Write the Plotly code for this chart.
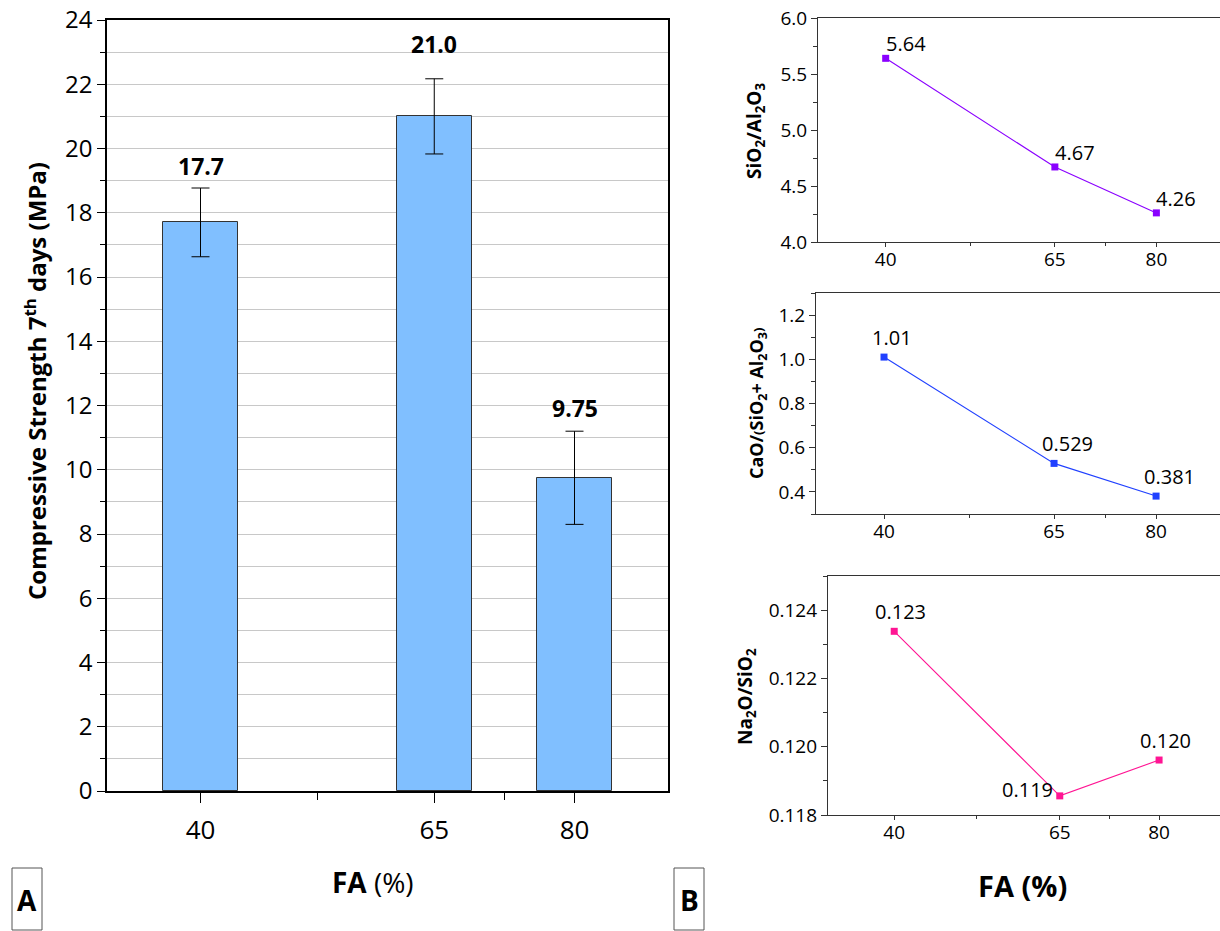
import plotly.graph_objects as go

# ---------------- data ----------------
fa = [40, 65, 80]
strength = [17.7, 21.0, 9.75]
strength_err = [1.07, 1.17, 1.45]
strength_labels = ["17.7", "21.0", "9.75"]

sio2_al2o3 = [5.64, 4.67, 4.26]
sio2_al2o3_labels = ["5.64", "4.67", "4.26"]

cao_ratio = [1.01, 0.529, 0.381]
cao_ratio_labels = ["1.01", "0.529", "0.381"]

na2o_sio2 = [0.12338, 0.11856, 0.11961]
na2o_sio2_labels = ["0.123", "0.119", "0.120"]

W, H = 1220, 931
FONT = "Open Sans"


def px(x):
    return x / W


def py(y):
    return 1 - y / H


fig = go.Figure()

# ---------------- panel A: bars ----------------
fig.add_trace(go.Bar(
    x=fa, y=strength, width=8,
    marker=dict(color="#80bfff", line=dict(color="#333333", width=1)),
    error_y=dict(type="data", array=strength_err, color="black", thickness=1, width=9),
    xaxis="x", yaxis="y", showlegend=False,
))

# ---------------- panel B: lines ----------------
line_specs = [
    ("x2", "y2", sio2_al2o3, "#8a00ff"),
    ("x3", "y3", cao_ratio, "#2040ff"),
    ("x4", "y4", na2o_sio2, "#ff1493"),
]
for xa, ya, vals, col in line_specs:
    fig.add_trace(go.Scatter(
        x=fa, y=vals, mode="lines+markers",
        line=dict(color=col, width=1.1),
        marker=dict(symbol="square", size=7, color=col, line=dict(width=0)),
        xaxis=xa, yaxis=ya, showlegend=False,
    ))

axis_common = dict(showline=True, linecolor="black", linewidth=1.5, ticks="outside",
                   tickcolor="black", zeroline=False, automargin=False,
                   ticklabeloverflow="allow")

layout = dict(
    template="none",
    width=W, height=H, margin=dict(l=0, r=0, t=0, b=0, pad=0),
    paper_bgcolor="white", plot_bgcolor="white",
    font=dict(family=FONT, color="black"),
    bargap=0,
)

# left chart axes
layout["xaxis"] = dict(
    **axis_common, domain=[px(107), px(668)], range=[30, 90], mirror=True, showgrid=False,
    tickmode="array", tickvals=fa, ticktext=[str(v) for v in fa], ticklen=10,
    ticklabelstandoff=5,
    tickfont=dict(size=26), anchor="y",
    minor=dict(tickmode="array", tickvals=[52.5, 72.5], ticks="outside", ticklen=7,
               tickcolor="black", showgrid=False),
)
layout["yaxis"] = dict(
    **axis_common,
    domain=[py(791), py(20)], range=[0, 24], mirror=True,
    tickmode="linear", tick0=0, dtick=2, ticklen=8, tickfont=dict(size=24),
    showgrid=True, gridcolor="#c8c8c8", gridwidth=1, anchor="x",
    minor=dict(dtick=1, ticks="outside", ticklen=5, tickcolor="black",
               showgrid=True, gridcolor="#c8c8c8", gridwidth=1),
)

right_specs = [
    # x axis, y axis, anchors, left px, top px, bottom px, x max, y range, dtick, format
    ("xaxis2", "yaxis2", "x2", "y2", 818, 18, 242, 89.4, [4.0, 6.0], 0.5, ".1f"),
    ("xaxis3", "yaxis3", "x3", "y3", 816, 293, 514, 89.4, [0.3, 1.3], 0.2, ".1f"),
    ("xaxis4", "yaxis4", "x4", "y4", 828, 576, 815, 89.2, [0.118, 0.125], 0.002, ".3f"),
]
rcommon = dict(showline=True, linecolor="#333333", linewidth=1.2, ticks="outside",
               tickcolor="#333333", zeroline=False, showgrid=False, automargin=False,
               ticklabeloverflow="allow")
for xk, yk, xa, ya, left, top, bot, xmax, yr, dt, fmt in right_specs:
    layout[xk] = dict(
        **rcommon, domain=[px(left), 1.0], range=[30, xmax], mirror=True,
        tickmode="array", tickvals=fa, ticktext=[str(v) for v in fa], ticklen=4,
        ticklabelstandoff=-4,
        tickfont=dict(size=19), anchor=ya,
        minor=dict(tickmode="array", tickvals=[52.5, 72.5], ticks="outside", ticklen=3,
                   tickcolor="#333333", showgrid=False),
    )
    tick0 = 0.4 if yk == "yaxis3" else yr[0]
    layout[yk] = dict(
        **rcommon, domain=[py(bot), py(top)], range=yr, mirror=False,
        tickmode="linear", tick0=tick0, dtick=dt, tickformat=fmt, ticklen=6,
        tickfont=dict(size=19), anchor=xa,
        minor=dict(dtick=dt / 2, ticks="outside", ticklen=4, tickcolor="#333333",
                   showgrid=False),
    )

fig.update_layout(**layout)

ann = []
# bar value labels
bar_label_shift = [4, 17, 5]
for x, v, e, t, s in zip(fa, strength, strength_err, strength_labels, bar_label_shift):
    ann.append(dict(x=x, y=v + e, xref="x", yref="y", text=f"<b>{t}</b>", showarrow=False,
                    yanchor="bottom", yshift=s, font=dict(size=23, family=FONT)))

# panel 1 labels
for x, v, t in zip(fa, sio2_al2o3, sio2_al2o3_labels):
    ann.append(dict(x=x, y=v, xref="x2", yref="y2", text=t, showarrow=False,
                    xanchor="left", yanchor="bottom", xshift=-2, yshift=-1,
                    font=dict(size=20, family=FONT)))
# panel 2 labels
for x, v, t, xs in zip(fa, cao_ratio, cao_ratio_labels, [8, 13, 13]):
    ann.append(dict(x=x, y=v, xref="x3", yref="y3", text=t, showarrow=False,
                    xanchor="center", yanchor="bottom", xshift=xs, yshift=4,
                    font=dict(size=20, family=FONT)))
# panel 3 labels
p3_style = [("center", "bottom", 6, 4), ("right", "middle", -5, 6), ("center", "bottom", 6, 4)]
for x, v, t, (xa_, ya_, xs, ys) in zip(fa, na2o_sio2, na2o_sio2_labels, p3_style):
    ann.append(dict(x=x, y=v, xref="x4", yref="y4", text=t, showarrow=False,
                    xanchor=xa_, yanchor=ya_, xshift=xs, yshift=ys,
                    font=dict(size=20, family=FONT)))

# axis titles
ann.append(dict(x=px(35), y=py(381), xref="paper", yref="paper", textangle=-90,
                text="<b>Compressive Strength 7<sup>th</sup> days (MPa)</b>", showarrow=False,
                xanchor="center", yanchor="middle", font=dict(size=24, family=FONT)))
ann.append(dict(x=px(373), y=py(882), xref="paper", yref="paper",
                text="<b>FA</b> (%)", showarrow=False, xanchor="center", yanchor="middle",
                font=dict(size=28, family=FONT)))
ann.append(dict(x=px(1022), y=py(885), xref="paper", yref="paper",
                text="<b>FA (%)</b>", showarrow=False, xanchor="center", yanchor="middle",
                font=dict(size=29, family=FONT)))
ann.append(dict(x=px(755), y=py(131), xref="paper", yref="paper", textangle=-90,
                text="<b>SiO<sub>2</sub>/Al<sub>2</sub>O<sub>3</sub></b>", showarrow=False,
                xanchor="center", yanchor="middle", font=dict(size=19, family=FONT)))
ann.append(dict(x=px(757), y=py(403), xref="paper", yref="paper", textangle=-90,
                text="<b>CaO/<span style='font-size:13px'>(</span>SiO<sub>2</sub>+ Al<sub>2</sub>O<sub>3</sub><span style='font-size:13px'>)</span></b>",
                showarrow=False, xanchor="center", yanchor="middle",
                font=dict(size=18, family=FONT)))
ann.append(dict(x=px(746), y=py(696), xref="paper", yref="paper", textangle=-90,
                text="<b>Na<sub>2</sub>O/SiO<sub>2</sub></b>", showarrow=False,
                xanchor="center", yanchor="middle", font=dict(size=19, family=FONT)))

# panel letters
for letter, cx in [("A", 27), ("B", 689)]:
    ann.append(dict(x=px(cx), y=py(900), xref="paper", yref="paper",
                    text=f"<b>{letter}</b>", showarrow=False, xanchor="center", yanchor="middle",
                    font=dict(size=28, family=FONT)))

shapes = []
for x0, x1 in [(12, 42), (674, 704)]:
    shapes.append(dict(type="rect", xref="paper", yref="paper", x0=px(x0), x1=px(x1),
                       y0=py(930), y1=py(868), line=dict(color="#555555", width=1)))

fig.update_layout(annotations=ann, shapes=shapes)

fig.write_html("out.html", config={"displayModeBar": False},
               post_script="document.body.style.margin='0px';")
